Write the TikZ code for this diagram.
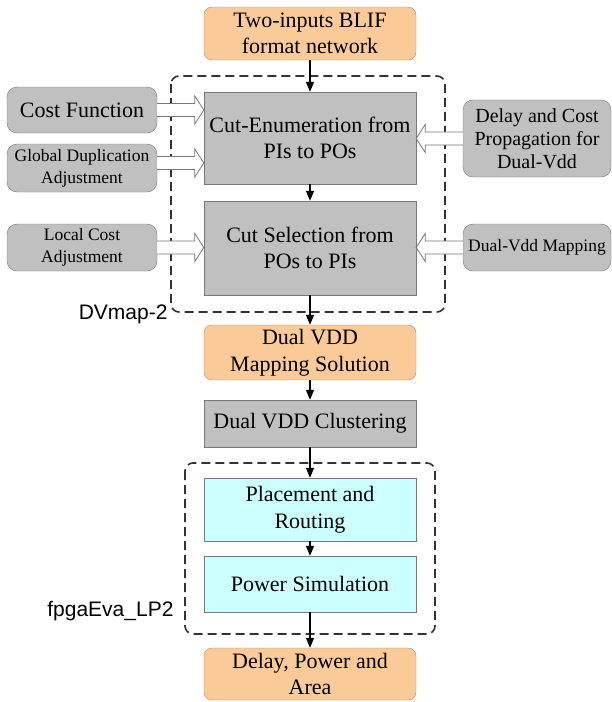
\documentclass[tikz,border=0pt]{standalone}
\usepackage{fontspec}
\setmainfont{Liberation Serif}
\newfontfamily\labelfont{Liberation Sans}
\usetikzlibrary{arrows.meta,calc}

\definecolor{orfill}{RGB}{250,202,152}
\definecolor{ordraw}{RGB}{170,140,110}
\definecolor{grfill}{RGB}{192,192,192}
\definecolor{grdraw}{RGB}{120,120,120}
\definecolor{cyfill}{RGB}{204,255,255}

% hollow block arrow from #1 to #2
\newcommand{\hollowarrow}[2]{%
  \coordinate (hb) at ($(#2)!9pt!(#1)$);
  \draw[hollow] ($(#1)+(0,6.5pt)$) -- ($(hb)+(0,6.5pt)$) -- ($(hb)+(0,14pt)$)
    -- (#2) -- ($(hb)+(0,-14pt)$) -- ($(hb)+(0,-6.5pt)$) -- ($(#1)+(0,-6.5pt)$);
}

\begin{document}
\begin{tikzpicture}[x=1pt,y=-1pt,
  io/.style={draw=ordraw,fill=orfill,rounded corners=8pt,minimum width=212pt,inner sep=0pt,align=center,font=\fontsize{22}{26.5}\selectfont},
  stage/.style={draw=grdraw,fill=grfill,minimum width=212pt,inner sep=0pt,align=center,font=\fontsize{22}{26.5}\selectfont},
  eva/.style={stage,fill=cyfill},
  side/.style={draw=grdraw,fill=grfill,rounded corners=10pt,inner sep=0pt,align=center,font=\fontsize{17.5}{21.7}\selectfont},
  flow/.style={line width=1.3pt,-{Triangle[length=10pt,width=8pt]}},
  hollow/.style={draw=grdraw,fill=white,line width=0.8pt},
  dashbox/.style={draw=black!80,line width=1.6pt,dash pattern=on 9pt off 5pt,rounded corners=8pt},
  tag/.style={font=\labelfont\fontsize{21}{24}\selectfont}]
\useasboundingbox (0,0) rectangle (611,702);

% dashed frames
\draw[dashbox] (171,76) rectangle (445,312);
\draw[dashbox] (185,463) rectangle (435,634);
\node[tag,anchor=base east] (dvmap) at (171,319) {DVmap-2};
\node[tag,anchor=base east] (fpga) at (177,616) {fpgaEva\_LP2};

% main flow
\node[io,minimum height=53pt] (blif) at (310,33.5) {Two-inputs BLIF\\format network};
\node[stage,minimum height=92pt] (cutenum) at (310,138) {Cut-Enumeration from\\PIs to POs};
\node[stage,minimum height=94pt] (cutsel) at (310,248) {Cut Selection from\\POs to PIs};
\node[io,minimum height=55pt] (mapsol) at (310,352.5) {Dual VDD\\Mapping Solution};
\node[stage,minimum height=47pt] (clust) at (310,423.5) {Dual VDD Clustering};
\node[eva,minimum height=63pt] (place) at (310,509.5) {Placement and\\Routing};
\node[eva,minimum height=56pt] (power) at (310,584) {Power Simulation};
\node[io,minimum height=52pt] (result) at (310,674) {Delay, Power and\\Area};

% side inputs
\node[side,minimum width=150pt,minimum height=46pt,font=\fontsize{22}{26.5}\selectfont] (cost) at (82,110) {Cost Function};
\node[side,minimum width=150pt,minimum height=48pt] (global) at (82,168) {Global Duplication\\Adjustment};
\node[side,minimum width=150pt,minimum height=47pt] (local) at (82,247.5) {Local Cost\\Adjustment};
\node[side,minimum width=148pt,minimum height=77pt,font=\fontsize{20}{23}\selectfont] (prop) at (537,138.5) {Delay and Cost\\Propagation for\\Dual-Vdd};
\node[side,minimum width=148pt,minimum height=47pt] (dvmapping) at (537,247.5) {Dual-Vdd Mapping};
\coordinate (gout) at ([yshift=5pt]global.east);

\draw[flow] (blif) -- (cutenum);
\draw[flow] (cutenum) -- (cutsel);
\draw[flow] (cutsel) -- (mapsol);
\draw[flow] (mapsol) -- (clust);
\draw[flow] (clust) -- (place);
\draw[flow] (place) -- (power);
\draw[flow] (power) -- (result);

\hollowarrow{cost.east}{cutenum.west |- cost.east}
\hollowarrow{gout}{cutenum.west |- gout}
\hollowarrow{local.east}{cutsel.west |- local.east}
\hollowarrow{prop.west}{cutenum.east |- prop.west}
\hollowarrow{dvmapping.west}{cutsel.east |- dvmapping.west}

\end{tikzpicture}
\end{document}
